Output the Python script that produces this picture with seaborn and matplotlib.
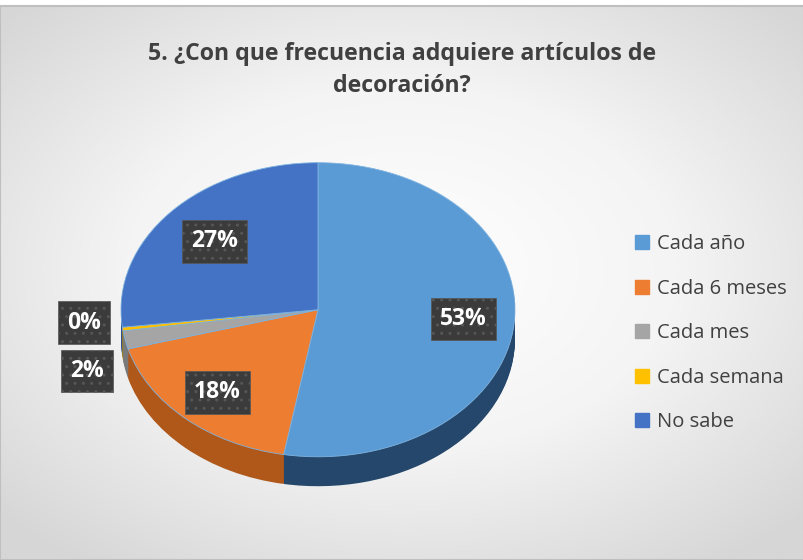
import matplotlib.pyplot as plt
import numpy as np
import seaborn as sns
from matplotlib.colors import LinearSegmentedColormap

# Data
categories = ['Cada año', 'Cada 6 meses', 'Cada mes', 'Cada semana', 'No sabe']
values = [53, 18, 2, 0.4, 27]
colors = ['#5B9BD5', '#ED7D31', '#A5A5A5', '#FFC000', '#4472C4']
side_colors = ['#24476B', '#B0581A', '#7A7A7A', '#BF9000', '#2F528F']
title = '5. ¿Con que frecuencia adquiere artículos de\ndecoración?'

sns.set_theme(style='white')
plt.rcParams['font.family'] = ['Open Sans', 'DejaVu Sans']

fig = plt.figure(figsize=(8.04, 5.6), dpi=100)

# radial gradient background
bg = fig.add_axes([0, 0, 1, 0.99])
yy, xx = np.mgrid[-1:1:300j, -1:1:400j]
rr = np.sqrt((xx / 1.15) ** 2 + ((yy + 0.05) / 1.1) ** 2)
cmap = LinearSegmentedColormap.from_list('bg', ['#FFFFFF', '#F4F4F4', '#D6D6D6'])
bg.imshow(rr, cmap=cmap, extent=[0, 1, 0, 1], aspect='auto', vmin=0, vmax=1.2)
bg.set_xticks([])
bg.set_yticks([])
for s in bg.spines.values():
    s.set_color('#BFBFBF')
    s.set_linewidth(1.5)

# pie axes (squashed to look tilted)
ax = fig.add_axes([0.126, 0.053, 0.539, 0.709])
depth = 0.2
n_layers = 25
for k in range(n_layers, 0, -1):
    ax.pie(values, colors=side_colors, startangle=90, counterclock=False,
           center=(0, -depth * k / n_layers),
           wedgeprops=dict(linewidth=0))
wedges, _ = ax.pie(values, colors=colors, startangle=90, counterclock=False,
                   wedgeprops=dict(linewidth=0.6, edgecolor='#7FB3E0'))
ax.set_xlim(-1.1, 1.1)
ax.set_ylim(-1.5, 1.2)
ax.set_aspect('auto')

# data labels
total = sum(values)
label_dist = [0.74, 0.76, 1.2, 1.2, 0.70]
label_nudge = [0.0, 0.0, -0.17, 0.07, 0.0]
box = dict(boxstyle='square,pad=0.4', facecolor='#3B3B3B', edgecolor='#565656',
           hatch='..', linewidth=0.5)
for w, v, d, nd in zip(wedges, values, label_dist, label_nudge):
    ang = np.deg2rad((w.theta1 + w.theta2) / 2)
    ax.text(d * np.cos(ang), d * np.sin(ang) + nd, f'{round(100 * v / total)}%',
            ha='center', va='center', color='white', fontsize=16.5,
            fontweight='bold', bbox=box)

fig.text(0.5, 0.875, title, ha='center', va='center', fontsize=16.7,
         fontweight='bold', color='#404040', linespacing=1.5)

handles = [plt.Rectangle((0, 0), 1, 1, color=c) for c in colors]
fig.legend(handles, categories, loc='center left', bbox_to_anchor=(0.767, 0.405),
           frameon=False, fontsize=14.5, labelcolor='#404040', handlelength=0.7,
           handleheight=0.7, handletextpad=0.4, labelspacing=1.22)

fig.savefig('out.png', dpi=100)
